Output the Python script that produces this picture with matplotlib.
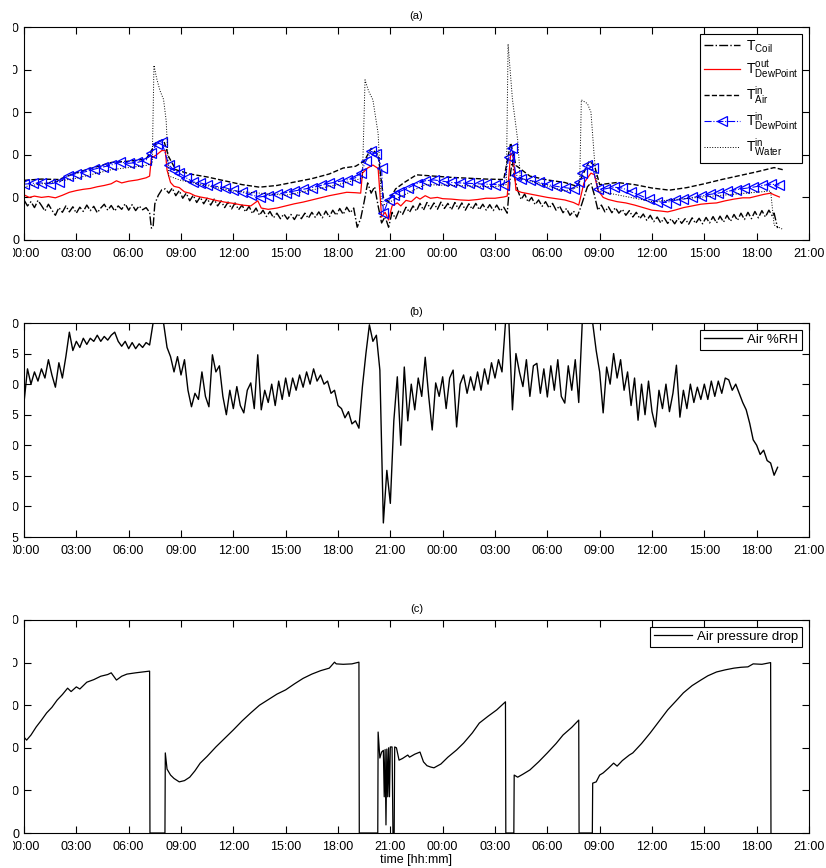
"""Coil test: temperatures, air RH and air pressure drop over two days."""

import matplotlib
matplotlib.use('Agg')
import matplotlib.pyplot as plt
from matplotlib.patches import Rectangle
import numpy as np

# time axis (hours from start), ticks every 3 h
tick_hours = list(range(0, 46, 3))
tick_labels = ['00:00', '03:00', '06:00', '09:00', '12:00', '15:00', '18:00', '21:00',
               '00:00', '03:00', '06:00', '09:00', '12:00', '15:00', '18:00', '21:00']

# (a) temperatures, (hour, degC)
t_coil = [(0.0, 9.4), (0.2, 8.0), (0.4, 9.0), (0.6, 7.6), (0.8, 9.3), (1.0, 8.1), (1.2, 6.8),
          (1.4, 8.4), (1.6, 7.0), (1.8, 5.8), (2.0, 7.6), (2.2, 6.5), (2.4, 8.0), (2.6, 6.6),
          (2.8, 7.8), (3.0, 6.3), (3.2, 7.7), (3.4, 6.7), (3.6, 8.2), (3.8, 6.9), (4.0, 7.9),
          (4.2, 6.4), (4.4, 7.5), (4.6, 8.4), (4.8, 7.0), (5.0, 8.1), (5.2, 6.8), (5.4, 8.0),
          (5.6, 7.2), (5.8, 8.5), (6.0, 7.0), (6.2, 8.3), (6.4, 6.9), (6.6, 8.0), (6.8, 7.1),
          (7.0, 7.6), (7.2, 6.5), (7.3, 2.8), (7.4, 3.0), (7.5, 8.5), (7.7, 10.5), (7.9, 11.8),
          (8.1, 12.0), (8.3, 11.0), (8.5, 12.2), (8.7, 10.4), (8.9, 11.6), (9.1, 9.8), (9.3, 11.0),
          (9.5, 9.2), (9.7, 10.5), (9.9, 8.8), (10.1, 10.1), (10.3, 8.5), (10.5, 9.8), (10.7, 8.2),
          (10.9, 9.6), (11.1, 8.0), (11.3, 9.2), (11.5, 7.6), (11.7, 8.9), (11.9, 7.3), (12.1, 8.7),
          (12.3, 7.1), (12.5, 8.2), (12.7, 6.6), (12.9, 7.9), (13.1, 6.2), (13.3, 7.5), (13.5, 5.8),
          (13.7, 7.0), (13.9, 5.5), (14.1, 6.7), (14.3, 5.2), (14.5, 6.3), (14.7, 5.0), (14.9, 6.1),
          (15.1, 4.9), (15.3, 6.0), (15.5, 4.8), (15.7, 6.2), (15.9, 5.0), (16.1, 6.3), (16.3, 5.1),
          (16.5, 6.5), (16.7, 5.3), (16.9, 6.6), (17.1, 5.2), (17.3, 6.8), (17.5, 5.4), (17.7, 7.0),
          (17.9, 5.8), (18.1, 7.4), (18.3, 6.0), (18.5, 7.7), (18.7, 6.4), (18.9, 7.5), (19.1, 3.0),
          (19.3, 5.0), (19.5, 9.0), (19.7, 13.4), (19.9, 11.0), (20.1, 12.5), (20.3, 8.0), (20.5, 4.0),
          (20.7, 5.5), (20.9, 3.0), (21.1, 6.5), (21.3, 5.0), (21.5, 7.0), (21.7, 6.0), (21.9, 7.7),
          (22.1, 6.5), (22.3, 8.0), (22.5, 6.8), (22.7, 8.6), (22.9, 7.0), (23.1, 8.8), (23.3, 7.3),
          (23.5, 8.7), (23.7, 7.2), (23.9, 8.9), (24.1, 7.4), (24.3, 8.6), (24.5, 7.1), (24.7, 8.8),
          (24.9, 7.3), (25.1, 8.7), (25.3, 7.0), (25.5, 8.5), (25.7, 7.2), (25.9, 8.6), (26.1, 7.1),
          (26.3, 8.4), (26.5, 7.0), (26.7, 8.3), (26.9, 6.9), (27.1, 8.2), (27.3, 6.8), (27.5, 7.7),
          (27.7, 6.3), (27.9, 16.0), (28.0, 18.8), (28.1, 15.0), (28.3, 11.7), (28.5, 9.5), (28.7, 10.8),
          (28.9, 8.9), (29.1, 10.0), (29.3, 8.3), (29.5, 9.4), (29.7, 7.9), (29.9, 9.0), (30.1, 7.5),
          (30.3, 8.6), (30.5, 7.0), (30.7, 8.0), (30.9, 6.4), (31.1, 7.4), (31.3, 5.8), (31.5, 6.8),
          (31.7, 5.4), (31.9, 7.5), (32.1, 10.0), (32.3, 12.5), (32.5, 13.4), (32.7, 10.5), (32.9, 7.0),
          (33.1, 8.2), (33.3, 6.6), (33.5, 7.8), (33.7, 6.4), (33.9, 7.6), (34.1, 6.3), (34.3, 7.2),
          (34.5, 5.8), (34.7, 6.9), (34.9, 5.4), (35.1, 6.5), (35.3, 5.0), (35.5, 6.1), (35.7, 4.6),
          (35.9, 5.8), (36.1, 4.3), (36.3, 5.4), (36.5, 4.0), (36.7, 5.2), (36.9, 3.9), (37.1, 5.0),
          (37.3, 3.8), (37.5, 5.1), (37.7, 3.9), (37.9, 5.0), (38.1, 3.7), (38.3, 5.2), (38.5, 3.9),
          (38.7, 5.1), (38.9, 3.8), (39.1, 5.3), (39.3, 4.0), (39.5, 5.5), (39.7, 4.0), (39.9, 5.6),
          (40.1, 4.2), (40.3, 5.8), (40.5, 4.4), (40.7, 6.0), (40.9, 4.6), (41.1, 6.3), (41.3, 4.8),
          (41.5, 6.5), (41.7, 5.0), (41.9, 6.7), (42.1, 5.2), (42.3, 6.9), (42.5, 5.4), (42.7, 7.0),
          (42.9, 5.6), (43.0, 6.3), (43.1, 4.5), (43.2, 2.8)]

t_dew_out = [(0.0, 10.6), (0.3, 10.0), (0.6, 10.3), (1.0, 10.0), (1.4, 10.2), (1.8, 9.9), (2.2, 10.5),
             (2.6, 11.2), (3.0, 11.6), (3.4, 11.9), (3.8, 12.1), (4.2, 12.5), (4.6, 12.8), (5.0, 13.2),
             (5.3, 13.9), (5.6, 13.4), (6.0, 13.8), (6.5, 14.1), (7.0, 14.6), (7.2, 15.0), (7.3, 19.2),
             (7.6, 20.0), (7.9, 21.0), (8.1, 21.0), (8.2, 16.4), (8.4, 13.5), (8.6, 12.6), (8.9, 12.3),
             (9.2, 11.3), (9.5, 11.0), (9.8, 10.4), (10.1, 10.1), (10.5, 9.8), (11.0, 9.3), (11.5, 8.9),
             (12.0, 8.6), (12.5, 8.2), (13.0, 8.0), (13.4, 9.2), (13.6, 7.5), (14.0, 7.2), (14.5, 7.5),
             (15.0, 8.0), (15.5, 8.5), (16.0, 8.9), (16.5, 9.4), (17.0, 9.9), (17.5, 10.4), (18.0, 10.8),
             (18.5, 11.2), (19.0, 11.1), (19.3, 11.0), (19.4, 15.7), (19.7, 16.9), (20.0, 17.6),
             (20.3, 16.8), (20.5, 5.4), (20.7, 6.5), (20.9, 4.7), (21.1, 8.0), (21.4, 8.7), (21.6, 8.0),
             (21.9, 9.3), (22.2, 9.0), (22.5, 10.1), (22.7, 9.6), (23.0, 10.4), (23.3, 9.8), (23.7, 10.0),
             (24.0, 9.7), (24.5, 9.6), (25.0, 9.4), (25.5, 9.3), (26.0, 9.5), (26.5, 9.8), (27.0, 9.8),
             (27.5, 10.1), (27.7, 10.3), (27.9, 20.4), (28.05, 19.5), (28.2, 11.7), (28.5, 11.2),
             (29.0, 10.8), (29.5, 10.4), (30.0, 10.0), (30.5, 9.7), (31.0, 9.4), (31.5, 8.8), (31.8, 8.2),
             (32.1, 13.4), (32.5, 15.7), (32.7, 15.3), (32.9, 11.7), (33.2, 10.0), (33.5, 9.5),
             (34.0, 9.0), (34.5, 8.7), (35.0, 8.2), (35.5, 7.6), (36.0, 7.0), (36.5, 6.8), (36.9, 6.6),
             (37.3, 7.0), (37.8, 7.6), (38.3, 8.0), (38.8, 8.4), (39.3, 8.6), (39.7, 8.7), (40.2, 9.2),
             (40.7, 9.6), (41.2, 9.9), (41.6, 9.9), (42.0, 10.3), (42.4, 10.7), (42.8, 11.0),
             (43.0, 10.6), (43.3, 10.1)]

t_air_in = [(0.0, 14.0), (1.0, 14.3), (2.0, 14.2), (3.0, 15.8), (4.0, 17.0), (5.0, 18.2), (6.0, 18.5),
            (7.0, 19.0), (7.3, 21.0), (7.6, 23.0), (8.0, 23.5), (8.3, 19.5), (8.7, 16.5), (9.5, 15.5),
            (10.5, 14.8), (11.5, 13.9), (12.5, 13.0), (13.5, 12.4), (14.5, 12.8), (15.5, 13.6),
            (16.5, 14.4), (17.5, 15.5), (18.3, 16.9), (19.0, 17.3), (19.5, 18.5), (19.9, 21.5),
            (20.3, 20.0), (20.6, 10.0), (20.9, 9.0), (21.3, 12.0), (21.8, 13.5), (22.5, 15.3),
            (23.5, 15.0), (24.5, 14.7), (25.5, 14.5), (26.5, 14.3), (27.5, 14.2), (27.9, 22.8),
            (28.2, 17.5), (29.0, 15.0), (30.0, 14.1), (31.0, 13.5), (31.7, 12.6), (32.0, 15.0),
            (32.4, 18.5), (32.7, 17.5), (33.0, 13.0), (34.0, 13.5), (35.0, 13.0), (36.0, 12.2),
            (37.0, 11.7), (38.0, 12.3), (39.0, 13.2), (40.0, 14.2), (41.0, 15.1), (42.0, 16.0),
            (43.0, 17.0), (43.5, 16.5)]

t_dew_in = [(0.0, 13.1), (0.5, 13.3), (1.0, 13.4), (1.5, 13.2), (2.0, 13.5), (2.5, 15.0), (3.0, 15.6),
            (3.5, 16.0), (4.0, 16.6), (4.5, 17.1), (5.0, 17.6), (5.5, 18.3), (6.0, 18.0), (6.5, 18.2),
            (7.0, 18.8), (7.3, 20.4), (7.6, 22.5), (7.9, 23.0), (8.3, 17.6), (8.6, 16.4), (8.9, 15.7),
            (9.3, 14.6), (9.7, 13.6), (10.1, 13.4), (10.5, 13.0), (11.0, 12.6), (11.5, 12.3),
            (12.0, 11.7), (12.5, 11.2), (13.0, 10.6), (13.5, 10.1), (14.0, 10.4), (14.5, 10.8),
            (15.0, 11.1), (15.5, 11.5), (16.0, 11.9), (16.5, 12.3), (17.0, 12.8), (17.5, 13.3),
            (18.0, 13.7), (18.5, 14.1), (19.0, 14.6), (19.3, 15.7), (19.6, 18.5), (19.9, 20.8),
            (20.2, 20.2), (20.5, 17.0), (20.6, 6.3), (20.9, 9.4), (21.2, 10.5), (21.5, 11.3),
            (22.0, 12.2), (22.5, 13.2), (23.0, 13.9), (23.5, 14.1), (24.0, 13.8), (24.5, 13.5),
            (25.0, 13.4), (25.5, 13.3), (26.0, 13.2), (26.5, 13.1), (27.0, 13.0), (27.5, 13.0),
            (27.8, 19.5), (27.95, 21.6), (28.2, 15.3), (28.5, 14.4), (29.0, 14.0), (29.5, 13.5),
            (30.0, 13.0), (30.5, 12.6), (31.0, 12.3), (31.5, 12.0), (31.8, 13.5), (32.0, 15.7),
            (32.3, 17.6), (32.6, 17.0), (32.9, 12.0), (33.3, 12.0), (33.8, 12.4), (34.3, 12.2),
            (34.8, 11.3), (35.3, 10.5), (35.8, 9.6), (36.3, 9.0), (36.8, 8.8), (37.3, 9.3),
            (37.8, 9.6), (38.3, 10.0), (38.8, 10.3), (39.3, 10.7), (39.8, 11.0), (40.3, 11.4),
            (40.8, 11.8), (41.3, 12.1), (41.8, 12.4), (42.3, 12.8), (42.8, 13.1), (43.3, 12.9)]

t_water_in = [(0.0, 12.5), (3.0, 14.5), (5.0, 16.5), (7.0, 17.5), (7.35, 18.0), (7.45, 41.0),
              (7.6, 38.0), (7.8, 35.0), (8.0, 33.0), (8.15, 28.0), (8.3, 15.0), (9.0, 14.0),
              (12.0, 11.5), (15.0, 10.5), (18.0, 13.0), (19.4, 14.5), (19.55, 37.6), (19.75, 35.0),
              (20.0, 32.9), (20.3, 25.0), (20.5, 8.0), (21.0, 9.0), (23.0, 13.0), (27.0, 12.5),
              (27.65, 13.0), (27.75, 46.0), (28.0, 33.0), (28.3, 23.5), (28.45, 14.5), (31.0, 11.5),
              (31.85, 12.5), (31.95, 32.9), (32.3, 32.0), (32.5, 30.0), (32.7, 19.0), (32.9, 11.5),
              (36.0, 9.0), (40.0, 10.5), (42.8, 11.5), (43.0, 3.5), (43.5, 2.5)]

# (b) air relative humidity [%]
rh_hours = [round(0.2 * i, 1) for i in range(217)]
rh_values = [87, 92.5, 90, 92, 90.5, 92.5, 91, 94, 91.5, 89.5, 93.5, 91, 94.5, 98.5, 95.5, 97, 96,
             97.5, 96.5, 97.5, 97, 98, 97, 97.8, 97.2, 98, 98.5, 97, 96.2, 97, 95.8, 96.8, 95.8,
             96.6, 96, 96.8, 96.4, 100, 100, 100, 100, 96, 94.5, 92, 94.5, 91.5, 94, 89, 86.3,
             88.5, 87.5, 92, 88, 86.3, 94.8, 92, 93, 88, 85, 89, 86, 89.6, 86.5, 85.3, 89, 90.2,
             86, 94.8, 85.8, 89, 87, 90, 86.5, 90.5, 87.5, 91, 88, 91, 89, 91.5, 89.5, 92, 90,
             92.5, 90.5, 91.5, 90, 90.5, 88.5, 89, 86.5, 86, 84.5, 85.5, 83.5, 84, 82.8, 89.6, 95,
             99.7, 97, 98, 92.3, 67.3, 75.9, 70.5, 84, 91.2, 80, 92.8, 84, 90, 85.8, 91, 88, 94.4,
             88, 82.5, 90.2, 88, 91.2, 86, 91, 92.3, 83, 90, 91.5, 88.5, 91.2, 89, 92, 89, 92.5,
             90, 93.5, 91, 94, 92, 100, 100, 85.8, 95, 92, 89.6, 94, 88, 93, 93.4, 88.5, 92.5,
             87.9, 93, 89, 94, 88, 86.9, 93, 89, 94, 87, 100, 100, 100, 100, 95.5, 92, 85.3, 92.8,
             90, 95, 91, 94, 89, 92, 86.5, 91, 84.1, 90, 85, 90.5, 85.5, 83, 89, 86, 90, 85.5,
             88.5, 93.1, 84.6, 89, 86, 90, 87, 89.5, 87.5, 90, 87.5, 90.5, 88, 90.5, 88.5, 91,
             90.7, 89, 90, 88.5, 87, 85.8, 83.6, 80.9, 80, 78.5, 79.2, 77.5, 77.1, 75.1, 76.4]

# (c) air pressure drop
dp_air = [(0.0, 22.5), (0.15, 21.8), (0.4, 23.0), (0.7, 24.9), (1.0, 26.5), (1.3, 28.2), (1.6, 29.5),
          (1.9, 31.2), (2.2, 32.5), (2.5, 34.0), (2.7, 33.2), (3.0, 34.3), (3.2, 33.8), (3.6, 35.4),
          (4.0, 36.0), (4.4, 36.8), (4.8, 37.2), (5.0, 37.6), (5.3, 35.9), (5.6, 36.8), (5.9, 37.3),
          (6.4, 37.6), (6.8, 37.8), (7.2, 38.0), (7.22, 0.0), (8.08, 0.0), (8.1, 18.8), (8.2, 15.0),
          (8.4, 13.6), (8.6, 12.8), (8.9, 12.0), (9.2, 12.3), (9.5, 13.1), (9.8, 14.6), (10.1, 16.4),
          (10.5, 18.0), (11.0, 20.2), (11.5, 22.2), (12.0, 24.2), (12.5, 26.3), (13.0, 28.2),
          (13.5, 30.0), (14.0, 31.3), (14.5, 32.6), (15.0, 33.6), (15.5, 35.0), (16.0, 36.3),
          (16.5, 37.3), (17.0, 38.1), (17.5, 38.7), (17.8, 40.1), (17.9, 39.7), (18.3, 39.6),
          (18.8, 39.7), (19.2, 40.1), (19.22, 0.0), (20.28, 0.0), (20.3, 23.7), (20.4, 17.6),
          (20.5, 19.0), (20.6, 19.4), (20.65, 8.5), (20.7, 19.6), (20.75, 1.9), (20.8, 19.7),
          (20.85, 8.5), (20.9, 20.0), (20.95, 8.5), (21.0, 20.2), (21.1, 20.2), (21.15, 0.0),
          (21.22, 0.0), (21.25, 20.2), (21.35, 20.0), (21.5, 17.1), (21.7, 17.5), (22.0, 18.3),
          (22.1, 17.8), (22.4, 18.5), (22.7, 19.0), (22.9, 16.7), (23.1, 15.8), (23.3, 15.5),
          (23.5, 15.3), (23.9, 16.2), (24.3, 17.8), (24.8, 19.5), (25.2, 21.1), (25.7, 23.5),
          (26.1, 25.8), (26.6, 27.4), (27.1, 28.9), (27.6, 30.8), (27.62, 0.0), (28.08, 0.0),
          (28.1, 13.6), (28.3, 13.1), (28.6, 13.8), (29.0, 14.8), (29.5, 16.7), (30.0, 18.8),
          (30.5, 21.0), (30.9, 23.0), (31.4, 24.8), (31.8, 26.5), (31.82, 0.0), (32.58, 0.0),
          (32.6, 11.7), (32.8, 12.0), (33.0, 13.6), (33.2, 14.1), (33.5, 15.2), (33.8, 16.4),
          (34.0, 15.7), (34.3, 17.0), (34.7, 18.3), (34.9, 18.8), (35.4, 21.0), (35.9, 23.5),
          (36.4, 26.2), (36.9, 28.9), (37.4, 31.1), (37.8, 32.9), (38.3, 34.6), (38.8, 35.9),
          (39.2, 36.9), (39.7, 37.8), (40.2, 38.3), (40.7, 38.7), (41.1, 38.9), (41.5, 39.0),
          (41.8, 39.7), (42.3, 39.6), (42.8, 40.0), (42.82, 0.0)]


def xy(pairs):
    arr = np.array(pairs)
    return arr[:, 0], arr[:, 1]


plt.rcParams['font.family'] = ['Liberation Sans', 'DejaVu Sans']
plt.rcParams['font.size'] = 9
plt.rcParams['mathtext.default'] = 'regular'
plt.rcParams['axes.linewidth'] = 0.8

W, H = 826, 868
fig = plt.figure(figsize=(W / 100, H / 100), dpi=100)


def make_axes(top_px, bottom_px):
    return fig.add_axes([24 / W, 1 - bottom_px / H, 785 / W, (bottom_px - top_px) / H])


def style(ax, title):
    ax.set_xlim(0, 45)
    ax.set_xticks(tick_hours)
    ax.set_xticklabels(tick_labels)
    ax.tick_params(direction='in', length=5, width=0.8, top=True, right=True)
    ax.tick_params(axis='x', pad=5.5)
    ax.tick_params(axis='y', pad=3.5)
    ax.set_title(title, fontsize=8, pad=6)


def legend(ax, **kw):
    leg = ax.legend(loc='upper right', fancybox=False, framealpha=1,
                    edgecolor='black', borderaxespad=0.5, handletextpad=0.4, **kw)
    leg.get_frame().set_linewidth(0.8)
    return leg


# (a)
ax1 = make_axes(27, 240)
x, y = xy(t_coil)
ax1.plot(x, y, color='k', ls='-.', lw=1.0, label='$T_{Coil}$')
x, y = xy(t_dew_out)
ax1.plot(x, y, color='red', ls='-', lw=0.9, label='$T^{out}_{DewPoint}$')
x, y = xy(t_air_in)
ax1.plot(x, y, color='k', ls='--', lw=1.0, label='$T^{in}_{Air}$')
x, y = xy(t_dew_in)
ax1.plot(x, y, color='blue', ls='-.', lw=0.8, marker='<', ms=7, mfc='none', mew=0.9,
         label='$T^{in}_{DewPoint}$')
x, y = xy(t_water_in)
ax1.plot(x, y, color='k', ls=':', lw=0.7, label='$T^{in}_{Water}$')
ax1.set_ylim(0, 50)
ax1.set_yticks([0, 10, 20, 30, 40, 50])
style(ax1, '(a)')
legend(ax1, fontsize=10, handlelength=2.6, labelspacing=0.3, borderpad=0.3)

# (b)
ax2 = make_axes(323, 537)
ax2.plot(rh_hours, rh_values, color='k', lw=1.0, label='Air %RH')
ax2.set_ylim(65, 100)
ax2.set_yticks(np.arange(65, 101, 5))
style(ax2, '(b)')
legend(ax2, fontsize=9.5, handlelength=2.9, borderpad=0.3)

# (c)
ax3 = make_axes(620, 833)
x, y = xy(dp_air)
ax3.plot(x, y, color='k', lw=0.9, label='Air pressure drop')
ax3.set_ylim(0, 50)
ax3.set_yticks([0, 10, 20, 30, 40, 50])
style(ax3, '(c)')
ax3.set_xlabel('time [hh:mm]', fontsize=9, labelpad=1)
legend(ax3, fontsize=9.5, handlelength=2.9, borderpad=0.3)

# the source picture is cut off at the left edge
fig.add_artist(Rectangle((0, 0), 13 / W, 1, transform=fig.transFigure,
                         facecolor='white', edgecolor='none', zorder=10))

fig.savefig('out.png', dpi=100)
